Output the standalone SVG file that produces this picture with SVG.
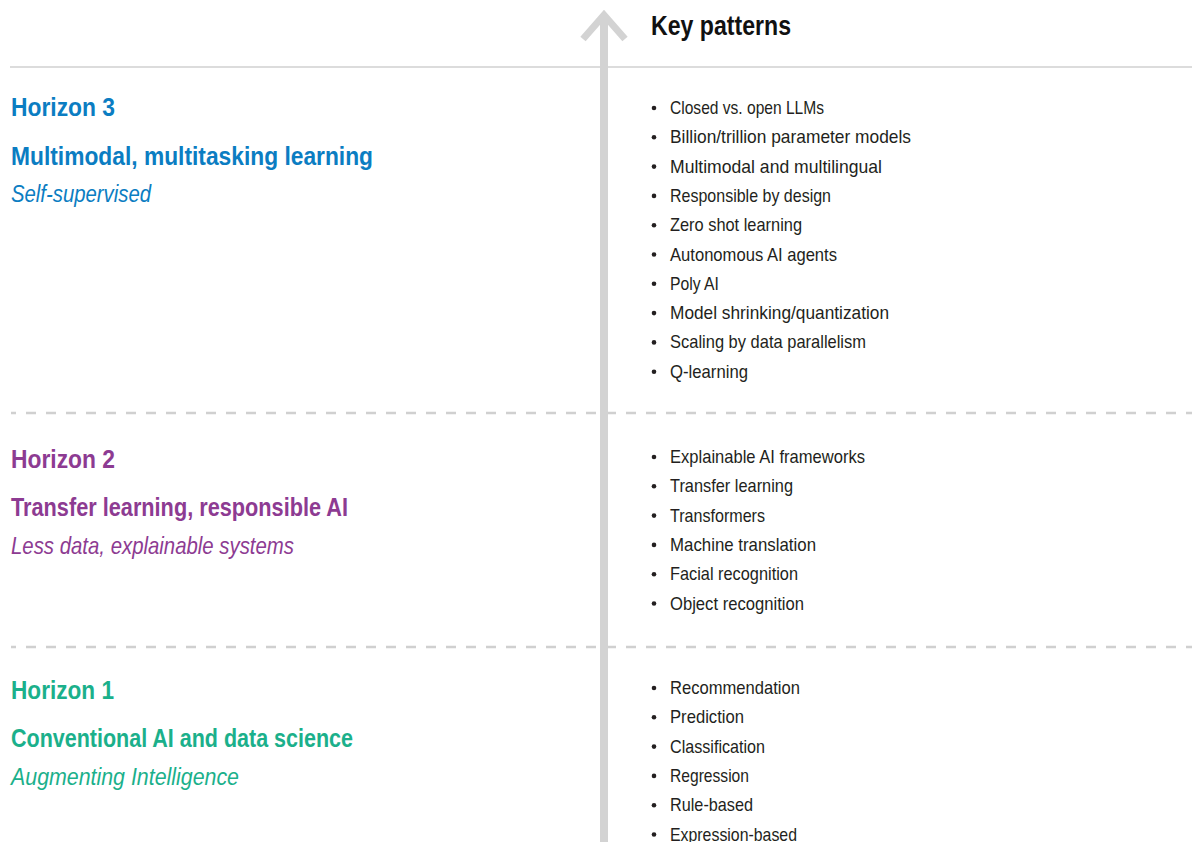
<svg xmlns="http://www.w3.org/2000/svg" width="1192" height="842" viewBox="0 0 1192 842">
  <style>
    .bg { fill: #ffffff; }
    .rule { stroke: #dcdcdc; stroke-width: 2; fill: none; }
    .dash { stroke: #d0d0d0; stroke-width: 2.5; fill: none; stroke-dasharray: 10 10; stroke-dashoffset: 5; }
    .axis { stroke: #d3d3d3; fill: none; }
    .head { font-family: "Liberation Sans", Arial, sans-serif; font-weight: bold; font-size: 26px; }
    .sub { font-family: "Liberation Sans", Arial, sans-serif; font-weight: bold; font-size: 26px; }
    .tag { font-family: "Liberation Sans", Arial, sans-serif; font-style: italic; font-size: 24px; }
    .title { font-family: "Liberation Sans", Arial, sans-serif; font-weight: bold; font-size: 28px; fill: #111111; }
    .item { font-family: "Liberation Sans", Arial, sans-serif; font-size: 19px; fill: #231f20; }
    .dot { fill: #231f20; }
    .h3 { fill: #0b7dc2; }
    .h2 { fill: #8d3b92; }
    .h1 { fill: #1bb08b; }
  </style>

  <rect class="bg" x="0" y="0" width="1192" height="842"/>

  <!-- section dividers -->
  <g id="dividers">
    <line class="rule" x1="10" y1="67" x2="1192" y2="67"/>
    <line class="dash" x1="11" y1="413" x2="1192" y2="413"/>
    <line class="dash" x1="11" y1="647" x2="1192" y2="647"/>
  </g>

  <!-- upward time axis -->
  <g id="connectors">
    <line class="axis" x1="604" y1="18" x2="604" y2="842" stroke-width="8"/>
    <polyline class="axis" points="583,39 604,15 625,39" stroke-width="7"/>
  </g>

  <g id="key-patterns-title">
    <text class="title" x="651" y="35" textLength="140" lengthAdjust="spacingAndGlyphs">Key patterns</text>
  </g>

  <!-- Horizon 3 -->
  <g id="horizon-3">
    <text class="head h3" x="11" y="116" textLength="104" lengthAdjust="spacingAndGlyphs">Horizon 3</text>
    <text class="sub h3" x="11" y="165" textLength="362" lengthAdjust="spacingAndGlyphs">Multimodal, multitasking learning</text>
    <text class="tag h3" x="11" y="202" textLength="140" lengthAdjust="spacingAndGlyphs">Self-supervised</text>
  </g>
  <g id="horizon-3-patterns">
    <circle class="dot" cx="654" cy="108" r="2.3"/>
    <text class="item" x="670" y="114" textLength="154" lengthAdjust="spacingAndGlyphs">Closed vs. open LLMs</text>
    <circle class="dot" cx="654" cy="137.3" r="2.3"/>
    <text class="item" x="670" y="143.3" textLength="241" lengthAdjust="spacingAndGlyphs">Billion/trillion parameter models</text>
    <circle class="dot" cx="654" cy="166.6" r="2.3"/>
    <text class="item" x="670" y="172.6" textLength="212" lengthAdjust="spacingAndGlyphs">Multimodal and multilingual</text>
    <circle class="dot" cx="654" cy="195.9" r="2.3"/>
    <text class="item" x="670" y="201.9" textLength="161" lengthAdjust="spacingAndGlyphs">Responsible by design</text>
    <circle class="dot" cx="654" cy="225.2" r="2.3"/>
    <text class="item" x="670" y="231.2" textLength="132" lengthAdjust="spacingAndGlyphs">Zero shot learning</text>
    <circle class="dot" cx="654" cy="254.5" r="2.3"/>
    <text class="item" x="670" y="260.5" textLength="167" lengthAdjust="spacingAndGlyphs">Autonomous AI agents</text>
    <circle class="dot" cx="654" cy="283.8" r="2.3"/>
    <text class="item" x="670" y="289.8" textLength="49" lengthAdjust="spacingAndGlyphs">Poly AI</text>
    <circle class="dot" cx="654" cy="313.1" r="2.3"/>
    <text class="item" x="670" y="319.1" textLength="219" lengthAdjust="spacingAndGlyphs">Model shrinking/quantization</text>
    <circle class="dot" cx="654" cy="342.4" r="2.3"/>
    <text class="item" x="670" y="348.4" textLength="196" lengthAdjust="spacingAndGlyphs">Scaling by data parallelism</text>
    <circle class="dot" cx="654" cy="371.7" r="2.3"/>
    <text class="item" x="670" y="377.7" textLength="78" lengthAdjust="spacingAndGlyphs">Q-learning</text>
  </g>

  <!-- Horizon 2 -->
  <g id="horizon-2">
    <text class="head h2" x="11" y="468" textLength="104" lengthAdjust="spacingAndGlyphs">Horizon 2</text>
    <text class="sub h2" x="11" y="516" textLength="337" lengthAdjust="spacingAndGlyphs">Transfer learning, responsible AI</text>
    <text class="tag h2" x="11" y="554" textLength="283" lengthAdjust="spacingAndGlyphs">Less data, explainable systems</text>
  </g>
  <g id="horizon-2-patterns">
    <circle class="dot" cx="654" cy="457" r="2.3"/>
    <text class="item" x="670" y="463" textLength="195" lengthAdjust="spacingAndGlyphs">Explainable AI frameworks</text>
    <circle class="dot" cx="654" cy="486.3" r="2.3"/>
    <text class="item" x="670" y="492.3" textLength="123" lengthAdjust="spacingAndGlyphs">Transfer learning</text>
    <circle class="dot" cx="654" cy="515.6" r="2.3"/>
    <text class="item" x="670" y="521.6" textLength="95" lengthAdjust="spacingAndGlyphs">Transformers</text>
    <circle class="dot" cx="654" cy="544.9" r="2.3"/>
    <text class="item" x="670" y="550.9" textLength="146" lengthAdjust="spacingAndGlyphs">Machine translation</text>
    <circle class="dot" cx="654" cy="574.2" r="2.3"/>
    <text class="item" x="670" y="580.2" textLength="128" lengthAdjust="spacingAndGlyphs">Facial recognition</text>
    <circle class="dot" cx="654" cy="603.5" r="2.3"/>
    <text class="item" x="670" y="609.5" textLength="134" lengthAdjust="spacingAndGlyphs">Object recognition</text>
  </g>

  <!-- Horizon 1 -->
  <g id="horizon-1">
    <text class="head h1" x="11" y="699" textLength="103" lengthAdjust="spacingAndGlyphs">Horizon 1</text>
    <text class="sub h1" x="11" y="747" textLength="342" lengthAdjust="spacingAndGlyphs">Conventional AI and data science</text>
    <text class="tag h1" x="11" y="785" textLength="228" lengthAdjust="spacingAndGlyphs">Augmenting Intelligence</text>
  </g>
  <g id="horizon-1-patterns">
    <circle class="dot" cx="654" cy="688" r="2.3"/>
    <text class="item" x="670" y="694" textLength="130" lengthAdjust="spacingAndGlyphs">Recommendation</text>
    <circle class="dot" cx="654" cy="717.3" r="2.3"/>
    <text class="item" x="670" y="723.3" textLength="74" lengthAdjust="spacingAndGlyphs">Prediction</text>
    <circle class="dot" cx="654" cy="746.6" r="2.3"/>
    <text class="item" x="670" y="752.6" textLength="95" lengthAdjust="spacingAndGlyphs">Classification</text>
    <circle class="dot" cx="654" cy="775.9" r="2.3"/>
    <text class="item" x="670" y="781.9" textLength="79" lengthAdjust="spacingAndGlyphs">Regression</text>
    <circle class="dot" cx="654" cy="805.2" r="2.3"/>
    <text class="item" x="670" y="811.2" textLength="83" lengthAdjust="spacingAndGlyphs">Rule-based</text>
    <circle class="dot" cx="654" cy="834.5" r="2.3"/>
    <text class="item" x="670" y="840.5" textLength="127" lengthAdjust="spacingAndGlyphs">Expression-based</text>
  </g>
</svg>
